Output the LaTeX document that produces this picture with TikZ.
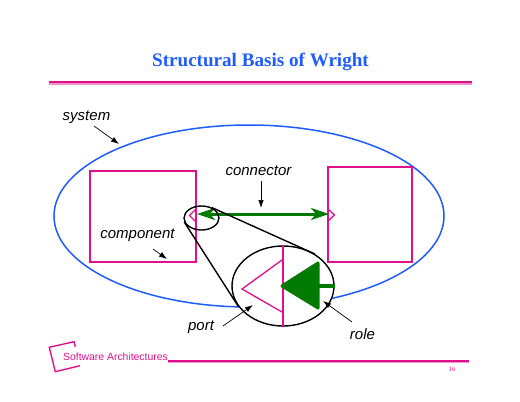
\documentclass[tikz,border=0pt]{standalone}
\usepackage{fontspec}
\usetikzlibrary{shapes.geometric,arrows.meta}
\setmainfont{Liberation Serif}
\setsansfont{Liberation Sans}
\definecolor{wrightblue}{HTML}{1F5CFF}
\definecolor{wrightpink}{HTML}{E0108C}
\definecolor{wrightgreen}{HTML}{007A00}
\begin{document}
\begin{tikzpicture}[x=1pt, y=-1pt, >={Latex[length=8pt,width=5.5pt]}]
        \tikzstyle{box}=[draw=wrightpink, line width=1.1pt, inner sep=0pt];
        \tikzstyle{oval}=[draw, ellipse, inner sep=0pt];
        \tikzstyle{lbl}=[font=\sffamily\itshape\fontsize{15}{17}\selectfont, inner sep=1pt];
        \tikzstyle{pink}=[draw=wrightpink, line width=1.3pt];
        \tikzstyle{ptr}=[->, line width=0.7pt];

        \useasboundingbox (0,0) rectangle (520,402);

        % heading
        \node[text=wrightblue, font=\bfseries\fontsize{19.1}{23}\selectfont] (title) at (260.5,61.5) {Structural Basis of Wright};
        \coordinate (ruleL) at (49,82);
        \coordinate (ruleR) at (472,82);
        \draw[wrightpink!45, line width=3pt] ([yshift=-1.5pt]ruleL) -- ([yshift=-1.5pt]ruleR);
        \draw[wrightpink, line width=2pt] (ruleL) -- (ruleR);

        % system and components
        \node[oval, draw=wrightblue, line width=1.5pt, minimum width=390pt, minimum height=182pt] (system) at (249,216) {};
        \node[box, minimum width=106pt, minimum height=91pt] (comp) at (143,216.5) {};
        \node[box, minimum width=84pt, minimum height=95pt] (other) at (370,214.5) {};

        % ports on the small scale
        \coordinate (portA) at (196,209);
        \coordinate (portB) at (189.5,215.5);
        \coordinate (portC) at (196,222);
        \coordinate (otherA) at (328,209);
        \coordinate (otherB) at (334.5,215);
        \coordinate (otherC) at (328,221);
        \draw[pink] (portA) -- (portB) -- (portC);
        \draw[pink] (otherA) -- (otherB) -- (otherC);

        % link between the ports
        \coordinate (linkL) at (197,214);
        \coordinate (linkR) at (329,214);
        \draw[wrightgreen, line width=3pt, {Stealth[length=18pt,width=12pt,inset=5pt]}-{Stealth[length=18pt,width=12pt,inset=5pt]}] (linkL) -- (linkR);

        % magnified view
        \node[oval, line width=1.4pt, fill=white, minimum width=102pt, minimum height=80pt] (bigoval) at (283,286) {};
        \node[oval, line width=1.4pt, minimum width=35pt, minimum height=24pt] (smalloval) at (201.5,218) {};
        \draw[line width=1.4pt] (smalloval.45) -- (bigoval.45);
        \draw[line width=1.4pt] (smalloval.193) -- (bigoval.205);

        \draw[pink] (bigoval.north) -- (bigoval.south);
        \coordinate (triA) at (282,260);
        \coordinate (triB) at (242,289);
        \coordinate (triC) at (282,312);
        \draw[pink] (triA) -- (triB) -- (triC);

        \coordinate (roleA) at (282,286);
        \coordinate (roleB) at (318,263);
        \coordinate (roleC) at (318,308);
        \coordinate (roleD) at (335,286);
        \draw[wrightgreen, fill=wrightgreen, line width=3pt, line join=round] (roleA) -- (roleB) -- (roleC) -- cycle;
        \draw[wrightgreen, line width=3.4pt] (317,286) -- (roleD);

        % labels
        \node[lbl] (systemlbl) at (86.5,117) {system};
        \node[lbl] (connlbl) at (258.5,170.5) {connector};
        \node[lbl] (complbl) at (137.5,235) {component};
        \node[lbl] (portlbl) at (201,327) {port};
        \node[lbl] (rolelbl) at (362.5,334) {role};

        \coordinate (systemtip) at (119,144);
        \coordinate (conntip) at (261,208);
        \coordinate (comptip) at (167,259);
        \coordinate (porttip) at (253,305);
        \coordinate (roletip) at (323,301);
        \draw[ptr] (94,126) -- (systemtip);
        \draw[ptr] (261,181) -- (conntip);
        \draw[ptr] (153,249) -- (comptip);
        \draw[ptr] (223,326) -- (porttip);
        \draw[ptr] (352,322) -- (roletip);

        % footer
        \draw[wrightpink, line width=1.4pt] (75.3,346.7) -- (74,341.7) -- (49.3,347.3) -- (55.3,371.7) -- (80,365.7);
        \node[text=wrightpink, font=\sffamily\fontsize{10.4}{12}\selectfont, inner sep=0pt, anchor=base west] (brand) at (63,360) {Software Architectures};
        \coordinate (footR) at (469,361);
        \draw[wrightpink!45, line width=3pt] (brand.base east |- footR) -- (footR);
        \draw[wrightpink, line width=1.5pt] (brand.base east |- footR) -- (footR);
        \node[text=wrightpink, font=\fontsize{6.5}{7}\selectfont, inner sep=0pt] (page) at (452,369) {16};
    \end{tikzpicture}
\end{document}
